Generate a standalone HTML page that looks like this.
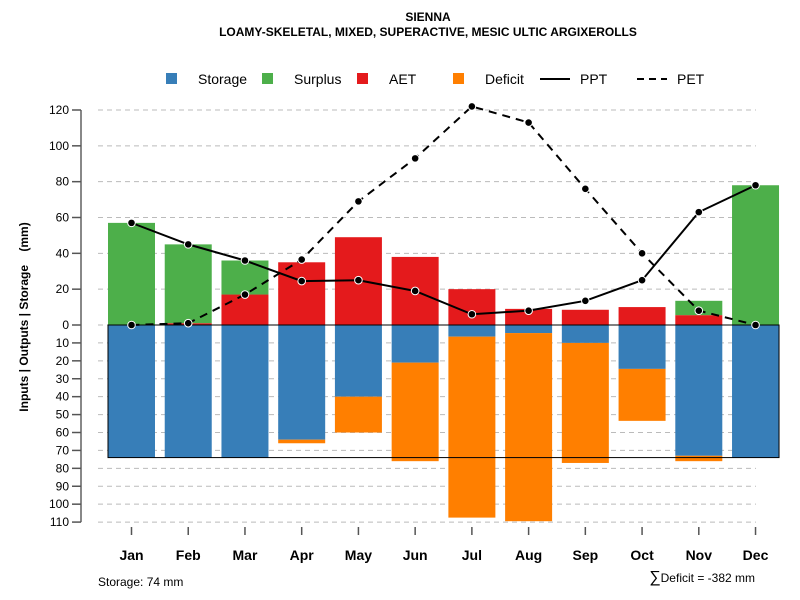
<!DOCTYPE html>
<html><head><meta charset="utf-8"><style>body{margin:0;background:#fff}svg{display:block;font-family:"Liberation Sans",sans-serif}</style></head>
<body>
<svg id="c" width="800" height="600">
<text x="428" y="21" text-anchor="middle" font-size="12" font-weight="bold">SIENNA</text>
<text x="428" y="36" text-anchor="middle" font-size="12" font-weight="bold">LOAMY-SKELETAL, MIXED, SUPERACTIVE, MESIC ULTIC ARGIXEROLLS</text>
<g font-size="14">
<g><rect x="166" y="73" width="11" height="11" fill="#377eb8"/><text x="198" y="84">Storage</text></g>
<g><rect x="262" y="73" width="11" height="11" fill="#4daf4a"/><text x="294" y="84">Surplus</text></g>
<g><rect x="357" y="73" width="11" height="11" fill="#e41a1c"/><text x="389" y="84">AET</text></g>
<g><rect x="453" y="73" width="11" height="11" fill="#ff7f00"/><text x="485" y="84">Deficit</text></g>
<g><line x1="540" y1="79" x2="570" y2="79" stroke="#000" stroke-width="2"/><text x="580" y="84">PPT</text></g>
<g><line x1="637" y1="79" x2="667" y2="79" stroke="#000" stroke-width="2" stroke-dasharray="7,5"/><text x="677" y="84">PET</text></g>
</g>
<text transform="translate(28,317) rotate(-90)" text-anchor="middle" font-size="12" font-weight="bold">Inputs | Outputs | Storage&#160;&#160;&#160;&#160;(mm)</text>
<text x="98" y="586" font-size="12">Storage: 74 mm</text>
<text x="755" y="582" text-anchor="end" font-size="12"><tspan font-size="16">∑</tspan>Deficit = -382 mm</text>
</svg>
<script>
const months=["Jan","Feb","Mar","Apr","May","Jun","Jul","Aug","Sep","Oct","Nov","Dec"];
const storage=[74,74,74,64,40,21,6.5,4.5,10,24.5,73,74];
const deficit=[0,0,0,2,20,55,101,105,67,29,3,0];
const aet=[0,1,17,35,49,38,20,9,8.5,10,5.5,0];
const surplus=[57,44,19,0,0,0,0,0,0,0,8,78];
const ppt=[57,45,36,24.5,25,19,6,8,13.5,25,63,78];
const pet=[0,1,17,36.5,69,93,122,113,76,40,8,0];
const upTicks=[0,20,40,60,80,100,120];
const downTicks=[10,20,30,40,50,60,70,80,90,100,110];
const soilStorage=74;
const svg=document.getElementById('c'),NS='http://www.w3.org/2000/svg';
const Y0=325,K=1.7917;
const yUp=v=>Y0-v*K, yDn=v=>Y0+v*K;
const xm=i=>131.5+i*56.73, BW=47;
function mk(t,a,p){const e=document.createElementNS(NS,t);for(const k in a)e.setAttribute(k,a[k]);(p||svg).appendChild(e);return e;}
const grid=mk('g',{});
const axis=mk('g',{});
mk('line',{x1:81,x2:81,y1:yUp(120),y2:yDn(110),stroke:'#888','stroke-width':2},axis);
function tick(y,label){
 const g=mk('line',{x1:98,x2:756,y1:y,y2:y,stroke:'#bbb','stroke-dasharray':'5,4'},grid);
 
 mk('line',{x1:72,x2:81,y1:y,y2:y,stroke:'#555','stroke-width':1.5},axis);
 const t=mk('text',{x:69,y:y+4,'text-anchor':'end','font-size':12},axis);t.textContent=label;
 
}
upTicks.forEach(v=>tick(yUp(v),v));downTicks.forEach(v=>tick(yDn(v),v));
const bars=mk('g',{});
function rect(x,y1,y2,fill,name){if(Math.abs(y2-y1)<0.01)return;const r=mk('rect',{x:x-BW/2,y:Math.min(y1,y2),width:BW,height:Math.abs(y2-y1),fill:fill},bars);
 }
months.forEach((m,i)=>{
 const x=xm(i);
 rect(x,yDn(0),yDn(storage[i]),'#377eb8','storage-bar-'+m.toLowerCase());
 rect(x,yDn(storage[i]),yDn(storage[i]+deficit[i]),'#ff7f00','deficit-bar-'+m.toLowerCase());
 rect(x,yUp(0),yUp(aet[i]),'#e41a1c','aet-bar-'+m.toLowerCase());
 rect(x,yUp(aet[i]),yUp(aet[i]+surplus[i]),'#4daf4a','surplus-bar-'+m.toLowerCase());
 const tl=mk('line',{x1:x,x2:x,y1:527,y2:535,stroke:'#555','stroke-width':1.5});
 
 const t=mk('text',{x:x,y:560,'text-anchor':'middle','font-size':14,'font-weight':'bold'});t.textContent=m;
 
});
const box=mk('rect',{x:xm(0)-BW/2,y:Y0,width:xm(11)-xm(0)+BW,height:soilStorage*K,fill:'none',stroke:'#000','stroke-width':1});

function series(vals,dash,name){
 const p=mk('polyline',{points:vals.map((v,i)=>xm(i)+','+yUp(v)).join(' '),fill:'none',stroke:'#000','stroke-width':2,'stroke-dasharray':dash});
 
 vals.forEach((v,i)=>{const c=mk('circle',{cx:xm(i),cy:yUp(v),r:3.8,fill:'#000',stroke:'#fff','stroke-width':1});
 });
}
series(pet,'8,6','pet');series(ppt,'none','ppt');
</script>
</body></html>
